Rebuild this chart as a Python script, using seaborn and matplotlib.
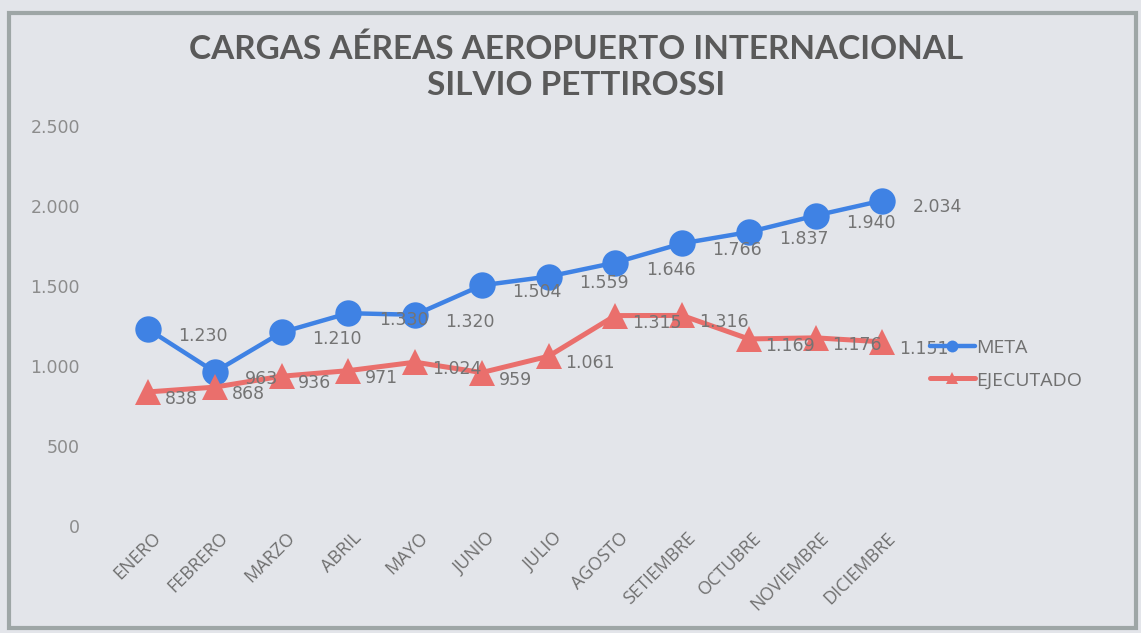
import pandas as pd
import seaborn as sns
import matplotlib.pyplot as plt
from matplotlib.patches import Rectangle
from matplotlib.ticker import FuncFormatter
from matplotlib.transforms import ScaledTranslation

meses = ['ENERO', 'FEBRERO', 'MARZO', 'ABRIL', 'MAYO', 'JUNIO', 'JULIO',
         'AGOSTO', 'SETIEMBRE', 'OCTUBRE', 'NOVIEMBRE', 'DICIEMBRE']
meta = [1230, 963, 1210, 1330, 1320, 1504, 1559, 1646, 1766, 1837, 1940, 2034]
ejecutado = [838, 868, 936, 971, 1024, 959, 1061, 1315, 1316, 1169, 1176, 1151]

BG = '#e3e5ea'
BLUE = '#3f82e4'
RED = '#ea6f6c'
GRAY = '#747474'


def miles(v, pos=None):
    return f'{int(v):,}'.replace(',', '.')


sns.set_style('white')
plt.rcParams['font.family'] = ['DejaVu Sans']

fig = plt.figure(figsize=(11.41, 6.33), dpi=100, facecolor=BG)
ax = fig.add_axes([0.1005, 0.169, 0.702, 0.632])
ax.set_facecolor(BG)

df = pd.DataFrame({'mes': meses, 'META': meta, 'EJECUTADO': ejecutado})

sns.lineplot(data=df, x='mes', y='META', ax=ax, color=BLUE, linewidth=3.2,
             marker='o', markersize=19, markeredgewidth=0, sort=False, label='META')
sns.lineplot(data=df, x='mes', y='EJECUTADO', ax=ax, color=RED, linewidth=3.6,
             marker='^', markersize=19, markeredgewidth=0, sort=False, label='EJECUTADO')

# etiquetas de datos a la derecha de cada punto
for i, v in enumerate(meta):
    ax.annotate(miles(v), (i, v), xytext=(22, -5), textcoords='offset points',
                ha='left', va='center', fontsize=12.5, color=GRAY)
for i, v in enumerate(ejecutado):
    ax.annotate(miles(v), (i, v), xytext=(12, -5), textcoords='offset points',
                ha='left', va='center', fontsize=12.5, color=GRAY)

ax.set_xlim(-0.5, len(meses) - 0.5)
ax.set_ylim(0, 2500)
ax.set_yticks(range(0, 2501, 500))
ax.yaxis.set_major_formatter(FuncFormatter(miles))
ax.tick_params(axis='y', length=0, pad=25, labelsize=12.5, labelcolor='#8c8c8c')
ax.tick_params(axis='x', length=0, pad=0, labelsize=13, labelcolor='#707070')
shift = ScaledTranslation(4 / 100, -3 / 100, fig.dpi_scale_trans)
for lbl in ax.get_xticklabels():
    lbl.set_rotation(45)
    lbl.set_ha('right')
    lbl.set_va('top')
    lbl.set_rotation_mode('anchor')
    lbl.set_family('Open Sans')
    lbl.set_transform(lbl.get_transform() + shift)
ax.set_xlabel('')
ax.set_ylabel('')
sns.despine(ax=ax, left=True, bottom=True)

leg = ax.legend(loc='center left', bbox_to_anchor=(0.996, 0.405), frameon=False,
                handlelength=2.3, handletextpad=0.1, labelspacing=0.75,
                markerscale=0.45, prop={'family': 'Open Sans', 'size': 14})
for t in leg.get_texts():
    t.set_color('#707070')

fig.text(0.505, 0.895, 'CARGAS AÉREAS AEROPUERTO INTERNACIONAL\nSILVIO PETTIROSSI',
         ha='center', va='center', fontsize=24, fontweight='bold', color='#5a5a5a',
         family='Lato', linespacing=1.3)

fig.patches.append(Rectangle((0.008, 0.008), 0.988, 0.972, transform=fig.transFigure,
                             fill=False, edgecolor='#9ea6a6', linewidth=3))

fig.savefig('out.png', dpi=100, facecolor=BG)
